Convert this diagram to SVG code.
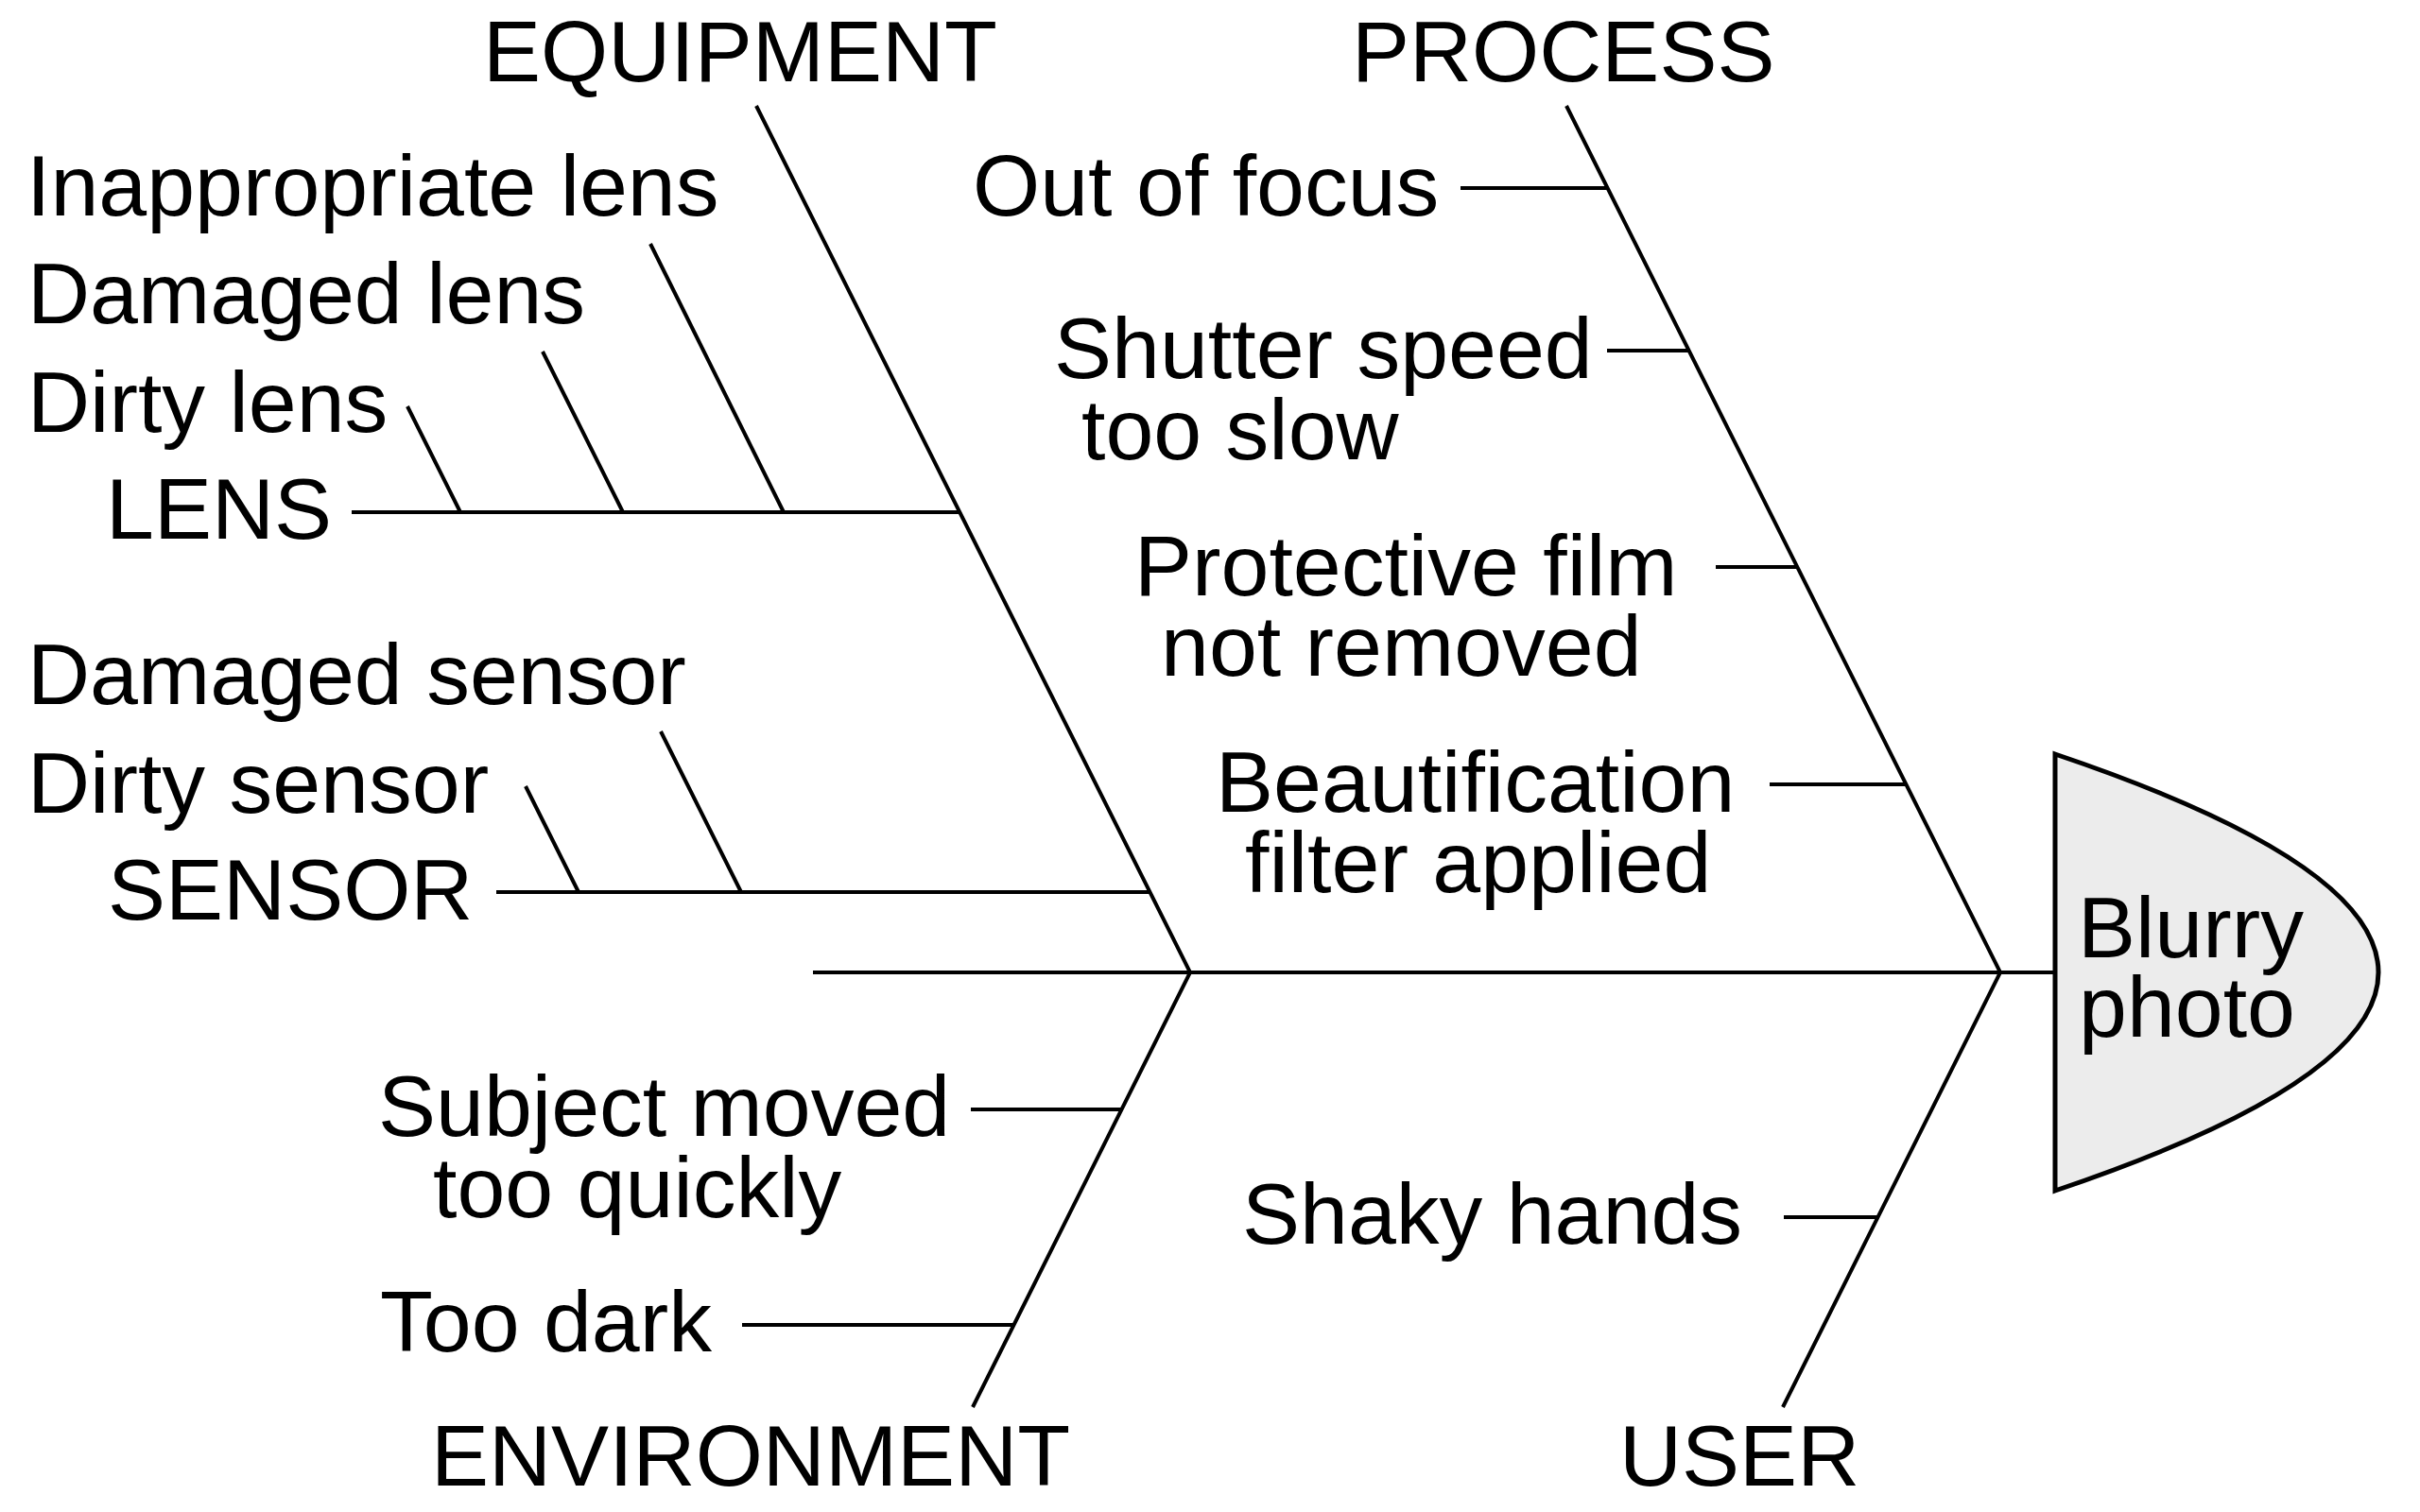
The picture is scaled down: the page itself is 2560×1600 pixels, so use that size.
<svg xmlns="http://www.w3.org/2000/svg" width="2560" height="1600" viewBox="0 0 2560 1600">
<style>
.ln{stroke:#000;stroke-width:4;fill:none;stroke-linecap:butt}
.t{font-family:"Liberation Sans",Arial,sans-serif;font-size:91.5px;fill:#000}
.head{fill:#ececec;stroke:#000;stroke-width:5;stroke-linejoin:miter}
</style>
<rect width="2560" height="1600" fill="#fff"/>
<g id="connectors">
<path class="ln" d="M860,1029H2174"/>
<path class="ln" d="M800,112L1259,1029L1029,1489"/>
<path class="ln" d="M1657,112L2116,1029L1886,1489"/>
<path class="ln" d="M372,542H1015.5"/>
<path class="ln" d="M431,430L487,542M574,372L659,542M688,258L829,542"/>
<path class="ln" d="M525,944H1216.5"/>
<path class="ln" d="M556,832L612,944M699,774L784,944"/>
<path class="ln" d="M1545,199H1701M1700,371H1787M1815,600H1901.5M1872,830H2016.5"/>
<path class="ln" d="M1027,1174H1186.5M785,1402H1072.5M1887,1288H1986.5"/>
</g>
<g id="head">
<path class="head" d="M2174,798L2174,1260Q2858,1029 2174,798Z"/>
<text class="t" x="2198" y="1013">Blurry</text>
<text class="t" x="2199" y="1097">photo</text>
</g>
<g id="equipment"><text class="t" x="511" y="86">EQUIPMENT</text></g>
<g id="process"><text class="t" x="1430" y="86">PROCESS</text></g>
<g id="environment"><text class="t" x="456" y="1572">ENVIRONMENT</text></g>
<g id="user"><text class="t" x="1713" y="1572">USER</text></g>
<g id="lens"><text class="t" x="112" y="570">LENS</text></g>
<g id="sensor"><text class="t" x="114" y="973">SENSOR</text></g>
<g id="inappropriate-lens"><text class="t" x="28" y="228">Inappropriate lens</text></g>
<g id="damaged-lens"><text class="t" x="29" y="342">Damaged lens</text></g>
<g id="dirty-lens"><text class="t" x="29" y="457">Dirty lens</text></g>
<g id="damaged-sensor"><text class="t" x="29" y="745">Damaged sensor</text></g>
<g id="dirty-sensor"><text class="t" x="29" y="860">Dirty sensor</text></g>
<g id="out-of-focus"><text class="t" x="1029" y="228">Out of focus</text></g>
<g id="shutter-speed"><text class="t" x="1115" y="400">Shutter speed</text><text class="t" x="1144" y="486">too slow</text></g>
<g id="protective-film"><text class="t" x="1200" y="630">Protective film</text><text class="t" x="1228" y="715">not removed</text></g>
<g id="beautification"><text class="t" x="1286" y="859">Beautification</text><text class="t" x="1317" y="944">filter applied</text></g>
<g id="subject-moved"><text class="t" x="400" y="1202">Subject moved</text><text class="t" x="458" y="1288">too quickly</text></g>
<g id="too-dark"><text class="t" x="402" y="1430">Too dark</text></g>
<g id="shaky-hands"><text class="t" x="1314" y="1316">Shaky hands</text></g>
</svg>
